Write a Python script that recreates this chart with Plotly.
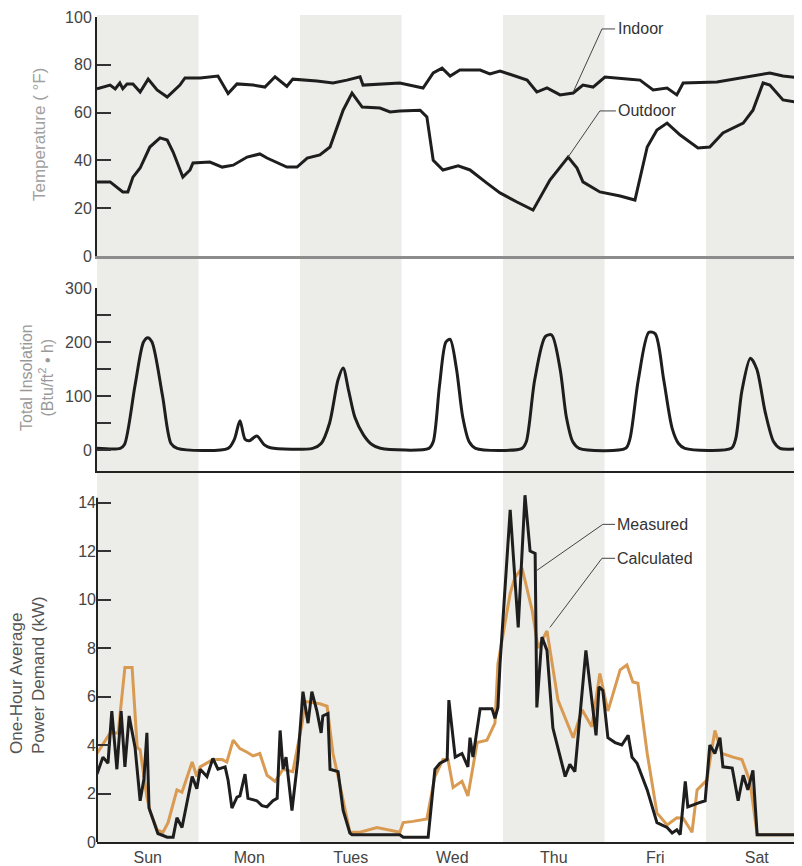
import plotly.graph_objects as go

# ---------------- data (x in hours from Sunday 00:00) ----------------
day_names = ["Sun", "Mon", "Tues", "Wed", "Thu", "Fri", "Sat"]
day_centers = [12, 36, 60, 84, 108, 132, 156]
shaded_days = [(0, 24), (48, 72), (96, 120), (144, 168)]

indoor_h = [0, 3.1, 4.3, 5.4, 6.1, 7.1, 8.5, 10.2, 12.1, 14.2, 16.6, 19.6, 20.8, 24.4, 28.6, 31.0,
            33.1, 36.9, 39.7, 42.1, 44.9, 46.3, 52.0, 55.8, 59.1, 62.2, 62.9, 71.6, 77.1, 79.5,
            81.6, 83.5, 85.8, 90.6, 92.9, 95.3, 101.7, 104.0, 106.4, 109.5, 112.6, 114.9, 117.3,
            120.1, 126.0, 128.4, 131.5, 134.8, 137.1, 138.6, 146.6, 154.4, 159.1, 162.2, 166.7]
indoor_t = [70, 71.5, 69.9, 72.4, 70, 72, 72, 68.6, 74, 69.5, 66.5, 71.5, 74.5, 74.5, 75.3, 68,
            72, 71.5, 70.7, 75, 71, 74, 73.2, 72.4, 73.6, 75, 71.5, 72.4, 70.3, 76.6,
            78.6, 75.3, 77.8, 77.8, 76.2, 77.4, 73.6, 68.6, 70.3, 67.4, 68.2, 71.5, 70.7,
            74.9, 74, 73.6, 69.5, 70.3, 67.4, 72.4, 72.8, 75.3, 76.6, 75.3, 74.5]

outdoor_h = [0, 3.1, 6.1, 7.3, 8.5, 10.2, 12.5, 14.9, 16.6, 18.0, 20.3, 22.0, 22.7, 26.7, 29.6,
             32.2, 35.5, 38.5, 40.2, 44.9, 47.3, 49.7, 52.7, 55.1, 58.2, 60.3, 62.7, 66.9, 69.3,
             71.6, 76.4, 78.0, 79.5, 81.8, 85.4, 88.2, 92.2, 95.3, 99.3, 103.1, 107.1, 111.4,
             113.5, 114.9, 118.9, 123.7, 127.2, 128.4, 130.1, 132.4, 134.8, 137.9, 142.1, 144.9,
             148.0, 152.8, 155.1, 157.5, 159.1, 162.2, 166.7]
outdoor_t = [31, 31, 26.8, 26.8, 33, 36.8, 45.6, 49.4, 48.5, 43.5, 33, 36, 38.9, 39.3, 37.2,
             38, 41.4, 42.7, 41, 37.2, 37.2, 41, 42.3, 45.6, 61, 68.2, 62.3, 61.9, 60.3,
             60.7, 61, 58.2, 40, 36, 37.7, 36, 30.5, 26.4, 22.6, 19.2, 31.8, 41.4,
             36.8, 31, 26.8, 25.1, 23.4, 33, 45.6, 52.7, 55.6, 50.6, 45.2, 45.6,
             51.5, 55.6, 61, 72.4, 71.5, 65.3, 64]

insol_h = [0, 5.5, 6.5, 9, 11, 12, 13, 15.5, 17.5, 19,
           31, 32.5, 33.8, 35, 36, 37.8, 39.5, 41,
           51, 53, 55, 57, 58.2, 59.5, 61, 63, 65, 67,
           78.5, 79.5, 81, 82.5, 83.5, 85, 86.5, 88, 89.5,
           100.5, 101.5, 103.5, 106, 107.5, 109.5, 111, 112.5, 114,
           125, 126, 128, 130.5, 132, 134, 136, 137.5, 139,
           150, 151, 152.5, 154.5, 156, 158, 160, 161.5, 166.7]
insol_v = [3, 3, 10, 120, 200, 208, 200, 100, 12, 3,
           3, 20, 54, 20, 17, 26, 10, 4,
           3, 12, 50, 130, 152, 110, 60, 28, 10, 3,
           3, 15, 120, 200, 205, 150, 60, 15, 3,
           3, 15, 130, 210, 213, 150, 60, 15, 3,
           3, 20, 130, 218, 215, 130, 40, 12, 3,
           3, 20, 110, 170, 150, 70, 15, 3, 3]

measured_h = [0, 1.4, 2.6, 3.5, 4.7, 5.7, 6.6, 7.6, 9.0, 10.2, 11.1, 11.8, 12.3, 14.4, 16.6, 18.0,
              18.9, 20.1, 22.5, 23.6, 24.4, 26.0, 27.4, 28.6, 30.3, 31.0, 31.9, 33.1, 33.8, 35.0,
              35.7, 37.8, 39.0, 40.2, 41.6, 42.6, 43.3, 44.0, 44.7, 45.2, 46.1, 47.5, 48.7, 49.9,
              50.8, 52.0, 53.0, 53.4, 54.6, 55.1, 57.0, 58.2, 59.8, 60.3, 71.6, 72.4, 78.3, 79.9,
              81.1, 82.8, 83.2, 84.7, 86.3, 87.7, 88.2, 88.9, 90.6, 93.4, 94.1, 94.8, 95.3, 97.7,
              99.6, 101.2, 102.4, 103.6, 104.0, 105.2, 106.4, 107.8, 110.7, 111.8, 113.0, 115.6,
              118.0, 118.7, 119.6, 120.8, 122.5, 124.1, 125.6, 126.5, 127.7, 130.1, 132.4, 134.8,
              136.0, 137.1, 137.9, 139.1, 139.7, 142.1, 143.8, 144.9, 146.1, 147.3, 148.0, 150.2,
              151.6, 152.8, 153.9, 155.1, 156.1, 166.7]
measured_kw = [2.8, 3.5, 3.25, 5.4, 3.0, 5.4, 3.1, 5.2, 3.9, 1.7, 2.6, 4.5, 1.4, 0.35, 0.2, 0.2,
               1.0, 0.6, 2.7, 2.2, 3.0, 2.7, 3.45, 3.0, 3.1, 2.55, 1.4, 1.85, 1.9, 2.8,
               1.8, 1.7, 1.5, 1.45, 1.7, 1.8, 4.6, 3.0, 3.5, 2.8, 1.3, 3.4, 6.2, 4.9,
               6.2, 5.4, 4.5, 5.2, 5.3, 3.0, 2.9, 1.3, 0.37, 0.3, 0.3, 0.2, 0.2, 3.0,
               3.25, 3.4, 5.85, 3.5, 3.65, 3.1, 4.3, 3.5, 5.5, 5.5, 5.1, 5.55, 7.35, 13.7,
               8.85, 14.3, 12.0, 11.9, 5.55, 8.45, 7.9, 4.7, 2.7, 3.2, 2.9, 7.9,
               4.4, 6.4, 6.25, 4.3, 4.1, 4.0, 4.4, 3.5, 3.25, 2.15, 0.8, 0.6,
               0.37, 0.5, 0.3, 2.5, 1.45, 1.6, 1.7, 4.0, 3.65, 4.3, 3.1, 3.05,
               1.7, 2.75, 2.15, 2.95, 0.3, 0.3]

calc_h = [0, 3.1, 5.0, 6.6, 8.3, 9.5, 10.2, 11.8, 12.5, 14.2, 15.6, 16.8, 18.9, 20.1, 22.5, 23.6,
          24.4, 27.4, 29.6, 30.7, 32.2, 33.8, 35.5, 36.9, 38.5, 40.2, 42.1, 44.0, 46.3, 48.5,
          49.2, 52.7, 54.4, 55.8, 57.5, 59.8, 62.2, 66.2, 71.6, 72.4, 74.7, 78.0, 79.9, 81.8,
          83.0, 84.2, 86.3, 87.7, 89.9, 92.2, 94.1, 94.8, 97.7, 98.8, 100.5, 102.9, 104.3,
          106.4, 109.0, 112.6, 114.7, 117.0, 118.9, 120.8, 123.7, 125.3, 126.7, 127.9, 130.1,
          132.4, 134.8, 137.1, 138.6, 140.7, 141.9, 144.2, 146.1, 147.8, 150.4, 152.5, 154.4,
          156.1, 166.7]
calc_kw = [3.65, 4.5, 4.5, 7.2, 7.2, 3.9, 3.8, 1.85, 1.3, 0.5, 0.4, 0.8, 2.15, 2.05, 3.3, 2.7,
           3.1, 3.4, 3.4, 3.3, 4.2, 3.85, 3.7, 3.55, 3.65, 2.75, 2.5, 3.0, 2.9, 4.9,
           5.8, 5.7, 5.6, 3.65, 2.3, 0.4, 0.4, 0.6, 0.4, 0.8, 0.85, 0.95, 2.7, 3.4,
           3.4, 2.25, 2.5, 1.9, 4.1, 4.2, 4.9, 7.35, 10.25, 10.9, 11.3, 9.55, 8.0,
           8.7, 5.85, 4.3, 5.45, 4.75, 6.95, 5.4, 7.1, 7.3, 6.6, 6.55, 3.65,
           1.2, 0.7, 1.0, 0.98, 0.4, 2.15, 2.55, 4.6, 3.65, 3.5, 3.4, 2.5,
           0.3, 0.3]

temp_ticks = [0, 20, 40, 60, 80, 100]
insol_ticks = [0, 100, 200, 300]
insol_minor = [50, 150, 250]
power_ticks = [0, 2, 4, 6, 8, 10, 12, 14]

# ---------------- figure ----------------
FONT = "Liberation Sans, Arial, Helvetica, sans-serif"
BLACK = "#1e1e1e"
ORANGE = "#D99A52"
BAND = "#ecece9"
XR = [0, 166.7]

fig = go.Figure()
fig.add_trace(go.Scatter(x=indoor_h, y=indoor_t, mode="lines", line=dict(color=BLACK, width=3),
                         xaxis="x", yaxis="y", showlegend=False))
fig.add_trace(go.Scatter(x=outdoor_h, y=outdoor_t, mode="lines", line=dict(color=BLACK, width=3),
                         xaxis="x", yaxis="y", showlegend=False))
fig.add_trace(go.Scatter(x=insol_h, y=insol_v, mode="lines",
                         line=dict(color=BLACK, width=3, shape="spline", smoothing=0.8),
                         xaxis="x2", yaxis="y2", showlegend=False))
fig.add_trace(go.Scatter(x=calc_h, y=calc_kw, mode="lines", line=dict(color=ORANGE, width=3),
                         xaxis="x3", yaxis="y3", showlegend=False))
fig.add_trace(go.Scatter(x=measured_h, y=measured_kw, mode="lines", line=dict(color=BLACK, width=3),
                         xaxis="x3", yaxis="y3", showlegend=False))

# The page body adds an 8px offset; size the figure so that page positions match.
OFF = 8
W, H = 802 - OFF, 866 - OFF
ML, MB = 97 - OFF, 24
PH = H - MB          # plot height in figure px
PW = W - ML

def pf(page_y):
    """page pixel y -> paper fraction"""
    return (PH - (page_y - OFF)) / PH

def px_x(page_x):
    return (page_x - 97) / PW

shapes = []
for a, b in shaded_days:
    shapes.append(dict(type="rect", xref="x", yref="paper", x0=a, x1=b, y0=0, y1=pf(15),
                       fillcolor=BAND, line=dict(width=0), layer="below"))
# left axis of power panel (only up to 14)
shapes.append(dict(type="line", xref="paper", yref="y3", x0=0, x1=0, y0=0, y1=14.2,
                   line=dict(color="#222", width=2)))
# leader lines
lead = dict(color="#444", width=1)
shapes += [
    dict(type="line", xref="x", yref="y", x0=119.4, y0=95, x1=122.5, y1=95, line=lead),
    dict(type="line", xref="x", yref="y", x0=119.4, y0=95, x1=112.6, y1=68.6, line=lead),
    dict(type="line", xref="x", yref="y", x0=118.9, y0=60.7, x1=122.7, y1=60.7, line=lead),
    dict(type="line", xref="x", yref="y", x0=118.9, y0=60.7, x1=111.4, y1=41.4, line=lead),
    dict(type="line", xref="x3", yref="y3", x0=119.6, y0=13.1, x1=122.5, y1=13.1, line=lead),
    dict(type="line", xref="x3", yref="y3", x0=119.6, y0=13.1, x1=104.0, y1=11.2, line=lead),
    dict(type="line", xref="x3", yref="y3", x0=119.4, y0=11.7, x1=122.5, y1=11.7, line=lead),
    dict(type="line", xref="x3", yref="y3", x0=119.4, y0=11.7, x1=107.1, y1=8.85, line=lead),
]

lab = dict(size=16, color="#333", family=FONT)
annotations = [
    dict(text="Indoor", x=122.7, y=95, xref="x", yref="y", xanchor="left", yanchor="middle",
         showarrow=False, font=lab),
    dict(text="Outdoor", x=122.8, y=60.7, xref="x", yref="y", xanchor="left", yanchor="middle",
         showarrow=False, font=lab),
    dict(text="Measured", x=122.6, y=13.1, xref="x3", yref="y3", xanchor="left", yanchor="middle",
         showarrow=False, font=lab),
    dict(text="Calculated", x=122.6, y=11.7, xref="x3", yref="y3", xanchor="left", yanchor="middle",
         showarrow=False, font=lab),
    # axis titles
    dict(text="Temperature ( °F)", textangle=-90, x=px_x(40), y=pf(134),
         xref="paper", yref="paper", xanchor="center", yanchor="middle", showarrow=False,
         font=dict(size=17, color="#a0a0a0", family=FONT)),
    dict(text="Total Insolation<br>(Btu/ft<sup>2</sup> • h)", textangle=-90, x=px_x(37),
         y=pf(378), xref="paper", yref="paper", xanchor="center", yanchor="middle", showarrow=False,
         font=dict(size=16, color="#999", family=FONT)),
    dict(text="One-Hour Average<br>Power Demand (kW)", textangle=-90, x=px_x(27),
         y=pf(675), xref="paper", yref="paper", xanchor="center", yanchor="middle", showarrow=False,
         align="left", font=dict(size=17, color="#555", family=FONT)),
]

tickfont = dict(size=16, color="#444", family=FONT)
yax_common = dict(showgrid=False, zeroline=False, ticks="inside", ticklen=14, tickwidth=2,
                  tickcolor="#333", tickfont=tickfont, fixedrange=True)

fig.update_layout(
    width=W, height=H,
    margin=dict(l=ML, r=0, t=0, b=MB, autoexpand=False),
    paper_bgcolor="white", plot_bgcolor="rgba(0,0,0,0)",
    font=dict(family=FONT),
    shapes=shapes, annotations=annotations, showlegend=False,
    xaxis=dict(domain=[0, 1], anchor="y", range=XR, showgrid=False, zeroline=False,
               showticklabels=False, ticks="", showline=True, linecolor="#8c8c8c", linewidth=3),
    xaxis2=dict(domain=[0, 1], anchor="y2", range=XR, showgrid=False, zeroline=False,
                showticklabels=False, ticks="", showline=True, linecolor="#222", linewidth=2),
    xaxis3=dict(domain=[0, 1], anchor="y3", range=XR, showgrid=False, zeroline=False,
                tickvals=day_centers, ticktext=day_names, ticks="", tickfont=tickfont,
                showline=True, linecolor="#222", linewidth=2, automargin=False),
    yaxis=dict(domain=[pf(256), pf(17)], range=[0, 100], tickvals=temp_ticks,
               showline=True, linecolor="#222", linewidth=2, **yax_common),
    yaxis2=dict(domain=[pf(471), pf(288)], range=[-39, 300], tickvals=insol_ticks,
                minor=dict(tickvals=insol_minor, ticks="inside", ticklen=14, tickwidth=2,
                           tickcolor="#333", showgrid=False),
                showline=True, linecolor="#222", linewidth=2, **yax_common),
    yaxis3=dict(domain=[0, pf(471)], range=[0, 15.3], tickvals=power_ticks,
                showline=False, **yax_common),
)

fig.write_html("out.html")
